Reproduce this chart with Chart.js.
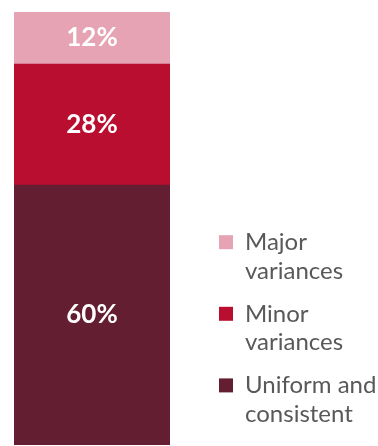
<!DOCTYPE html>
<html>
<head>
<meta charset="utf-8">
<script src="https://cdn.jsdelivr.net/npm/chart.js@4/dist/chart.umd.min.js"></script>
<style>
  html, body { margin: 0; padding: 0; background: #fff; }
  #wrap { width: 378px; height: 446px; }
</style>
</head>
<body>
<div id="wrap"><canvas id="shareChart"></canvas></div>
<script>
// one stacked column, bottom to top
var categories = [''];
var seriesNames = ['Uniform and consistent', 'Minor variances', 'Major variances'];
var legendLines = [['Uniform and', 'consistent'], ['Minor', 'variances'], ['Major', 'variances']];
var uniformValues = [60];
var minorValues = [28];
var majorValues = [12];
var seriesColors = ['#641e32', '#b90e2f', '#e5a3b4'];

Chart.defaults.font.family = 'Lato, "Open Sans", sans-serif';

// white percentage in the middle of each segment
var segmentLabels = {
  id: 'segmentLabels',
  afterDatasetsDraw: function (chart) {
    var ctx = chart.ctx;
    ctx.save();
    ctx.fillStyle = '#ffffff';
    ctx.font = 'bold 26px Lato, sans-serif';
    ctx.textAlign = 'center';
    ctx.textBaseline = 'middle';
    chart.data.datasets.forEach(function (ds, i) {
      chart.getDatasetMeta(i).data.forEach(function (bar, j) {
        ctx.fillText(ds.data[j] + '%', bar.x, (bar.y + bar.base) / 2);
      });
    });
    ctx.restore();
  }
};

var ctx = document.getElementById('shareChart').getContext('2d');
var shareChart = new Chart(ctx, {
  type: 'bar',
  data: {
    labels: categories,
    datasets: [
      { label: seriesNames[0], data: uniformValues, backgroundColor: seriesColors[0] },
      { label: seriesNames[1], data: minorValues, backgroundColor: seriesColors[1] },
      { label: seriesNames[2], data: majorValues, backgroundColor: seriesColors[2] }
    ]
  },
  options: {
    responsive: true,
    maintainAspectRatio: false,
    animation: false,
    barPercentage: 1,
    categoryPercentage: 1,
    layout: { padding: { left: 14, top: 12, bottom: 1, right: 0 } },
    scales: {
      x: { stacked: true, display: false },
      y: {
        stacked: true,
        min: 0,
        max: 100,
        position: 'right',
        grid: { display: false },
        border: { display: false },
        ticks: { display: false },
        // empty gap between the column and the legend
        afterFit: function (scale) { scale.width = 35; }
      }
    },
    plugins: {
      tooltip: { enabled: false },
      legend: {
        position: 'right',
        align: 'end',
        reverse: true,
        maxWidth: 173,
        labels: {
          boxWidth: 14,
          boxHeight: 14,
          padding: 14,
          color: '#595959',
          font: { size: 24, lineHeight: 1.2 },
          generateLabels: function (chart) {
            return Chart.defaults.plugins.legend.labels.generateLabels(chart).map(function (item) {
              item.text = legendLines[item.datasetIndex];
              return item;
            });
          }
        }
      }
    }
  },
  plugins: [segmentLabels]
});
</script>
</body>
</html>
